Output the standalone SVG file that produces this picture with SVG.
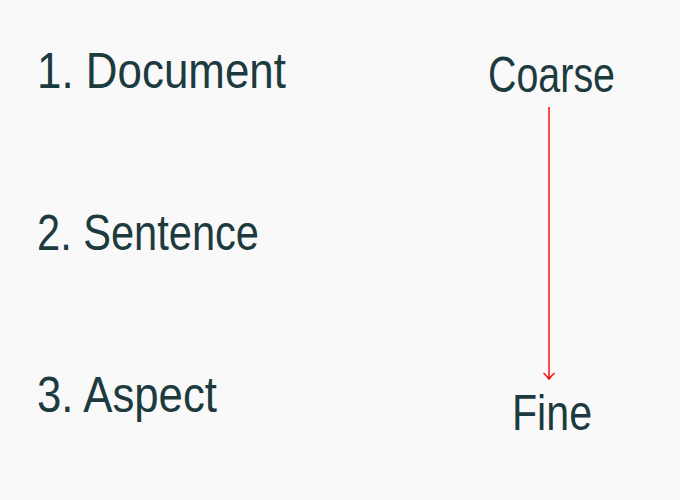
<svg xmlns="http://www.w3.org/2000/svg" width="680" height="500" viewBox="0 0 680 500">
<style>
text{font-family:"Liberation Sans","DejaVu Sans",sans-serif;font-size:50px;fill:#1d3a3e}
.a{stroke:#ff0000;stroke-width:1.4;fill:none}
</style>
<rect width="680" height="500" fill="#f9f9f9"/>
<g id="document"><text x="37" y="88" textLength="249" lengthAdjust="spacingAndGlyphs">1. Document</text></g>
<g id="sentence"><text x="37" y="250" textLength="222" lengthAdjust="spacingAndGlyphs">2. Sentence</text></g>
<g id="aspect"><text x="37" y="412" textLength="180" lengthAdjust="spacingAndGlyphs">3. Aspect</text></g>
<g id="coarse"><text x="488" y="92" textLength="127" lengthAdjust="spacingAndGlyphs">Coarse</text></g>
<g id="fine"><text x="512" y="430" textLength="80" lengthAdjust="spacingAndGlyphs">Fine</text></g>
<g id="connectors">
<line class="a" x1="549" y1="107" x2="549" y2="379"/>
<path class="a" d="M543.5,373 Q547,376 549,379 Q551,376 554.5,373"/>
</g>
</svg>
